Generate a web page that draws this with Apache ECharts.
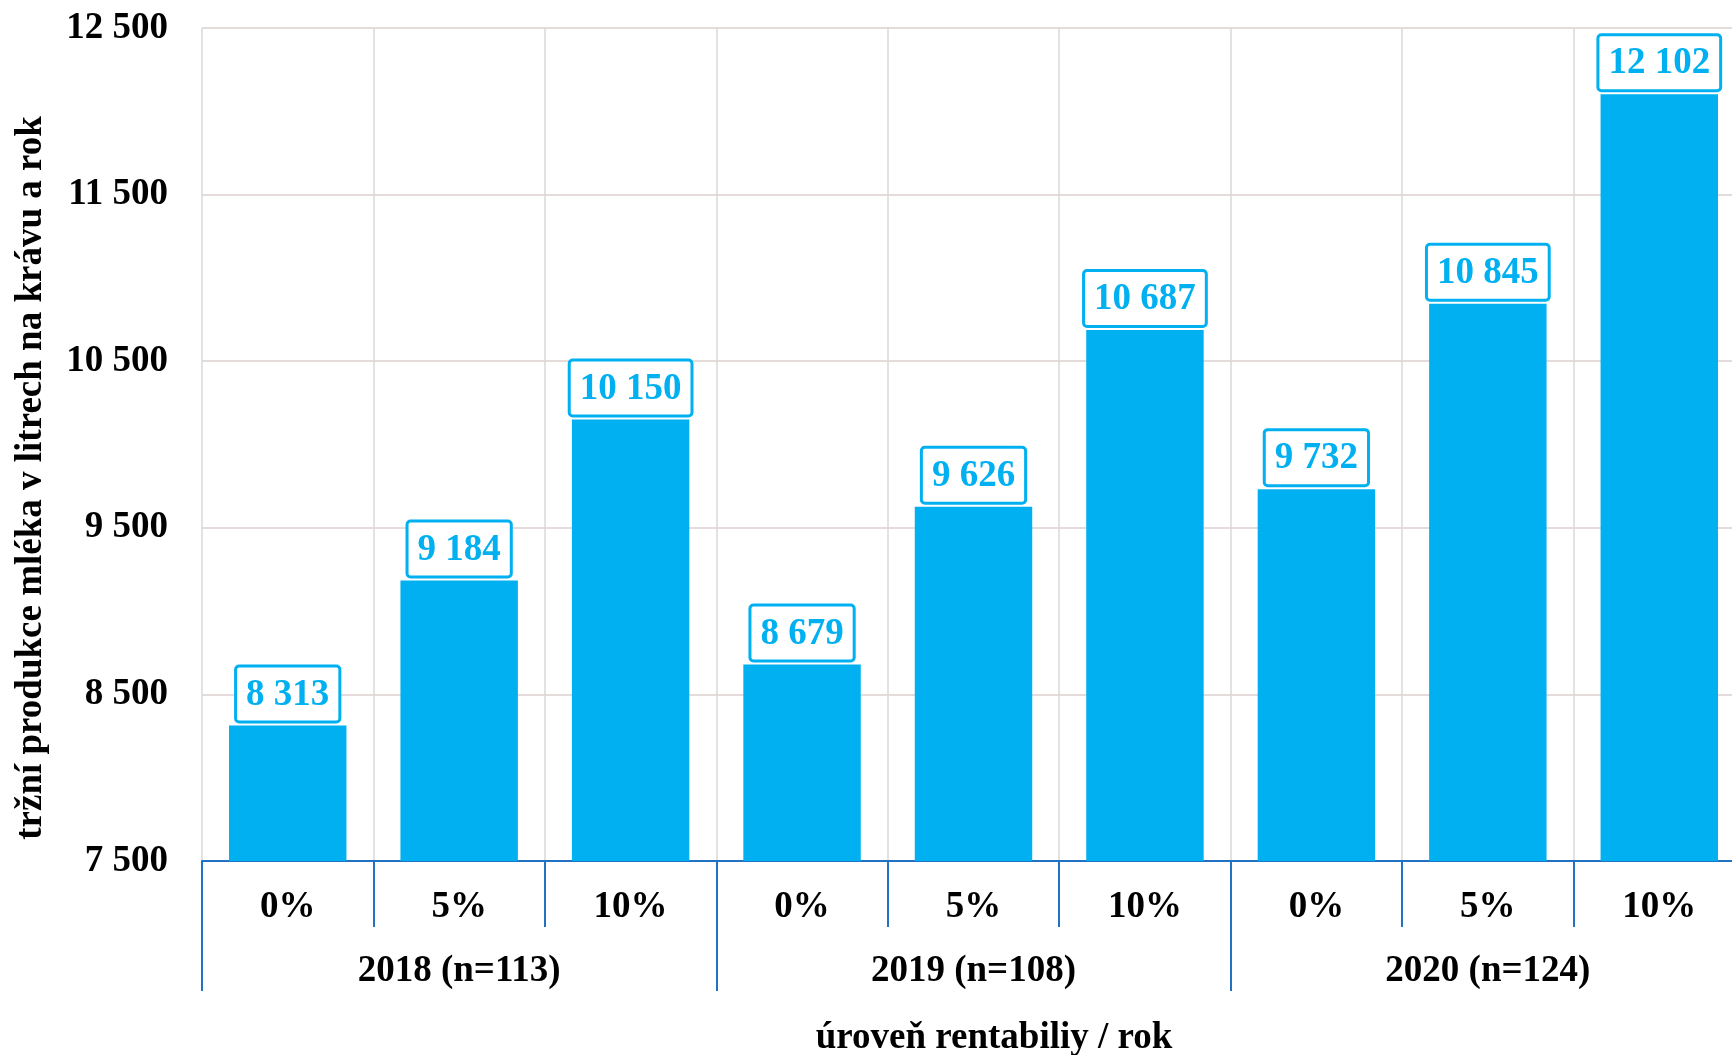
<!DOCTYPE html>
<html>
<head>
<meta charset="utf-8">
<script src="https://cdn.jsdelivr.net/npm/echarts@6/dist/echarts.min.js"></script>
<style>html,body{margin:0;padding:0;background:#fff}#c{width:1732px;height:1055px}</style>
</head>
<body>
<div id="c"></div>
<script>
const years = ['2018 (n=113)', '2019 (n=108)', '2020 (n=124)'];
const levels = ['0%', '5%', '10%'];
const values = [8313, 9184, 10150, 8679, 9626, 10687, 9732, 10845, 12102];
const yTicks = [7500, 8500, 9500, 10500, 11500, 12500];
const yTitle = 'tržní produkce mléka v litrech na krávu a rok';
const xTitle = 'úroveň rentabiliy / rok';

const categories = [];
years.forEach(y => levels.forEach(l => categories.push(y + '|' + l)));

const FONT = "'Liberation Serif', 'Times New Roman', serif";
const BLUE = '#00b0f0';
const AXIS_BLUE = '#2272c3';
const fmt = v => String(v).replace(/\B(?=(\d{3})+(?!\d))/g, ' ');

const chart = echarts.init(document.getElementById('c'), null, {renderer: 'canvas'});
chart.setOption({
  animation: false,
  backgroundColor: '#ffffff',
  grid: {left: 202, width: 1543, top: 28, height: 833, containLabel: false, outerBoundsMode: 'none'},
  xAxis: [
    {
      type: 'category',
      data: categories,
      position: 'bottom',
      offset: 0,
      axisLine: {show: true, lineStyle: {color: AXIS_BLUE, width: 2}},
      axisTick: {show: true, length: 66, lineStyle: {color: AXIS_BLUE, width: 2}},
      axisLabel: {
        margin: 28, color: '#000', fontFamily: FONT, fontWeight: 'bold', fontSize: 37,
        formatter: v => v.split('|')[1]
      },
      splitLine: {show: true, lineStyle: {color: '#d9d9d9', width: 1.5}}
    },
    {
      type: 'category',
      data: years,
      position: 'bottom',
      offset: 0,
      axisLine: {show: false},
      axisTick: {show: true, length: 130, lineStyle: {color: AXIS_BLUE, width: 2}},
      axisLabel: {margin: 92, color: '#000', fontFamily: FONT, fontWeight: 'bold', fontSize: 37},
      splitLine: {show: false}
    }
  ],
  yAxis: {
    type: 'value',
    min: yTicks[0],
    max: yTicks[yTicks.length - 1],
    interval: 1000,
    axisLine: {show: false},
    axisTick: {show: false},
    axisLabel: {margin: 34, padding: [4, 0, 0, 0], color: '#000', fontFamily: FONT, fontWeight: 'bold', fontSize: 37, formatter: v => fmt(v)},
    splitLine: {show: true, lineStyle: {color: '#dccfcf', width: 1.5}}
  },
  series: [{
    type: 'bar',
    xAxisIndex: 0,
    data: values,
    barCategoryGap: '31.5%',
    itemStyle: {color: BLUE},
    label: {
      show: true,
      position: 'top',
      distance: 5,
      color: BLUE,
      fontFamily: FONT,
      fontWeight: 'bold',
      fontSize: 37,
      backgroundColor: '#ffffff',
      borderColor: BLUE,
      borderWidth: 3,
      borderRadius: 2,
      padding: [9, 9, 7, 9],
      formatter: p => fmt(p.value)
    }
  }],
  graphic: [
    {
      type: 'text', x: 31, y: 478, rotation: Math.PI / 2,
      style: {text: yTitle, fill: '#000', font: "bold 37px 'Liberation Serif', 'Times New Roman', serif", textAlign: 'center', textVerticalAlign: 'middle'}
    },
    {
      type: 'text', x: 994, y: 1038,
      style: {text: xTitle, fill: '#000', font: "bold 37px 'Liberation Serif', 'Times New Roman', serif", textAlign: 'center', textVerticalAlign: 'middle'}
    }
  ]
});
</script>
</body>
</html>
